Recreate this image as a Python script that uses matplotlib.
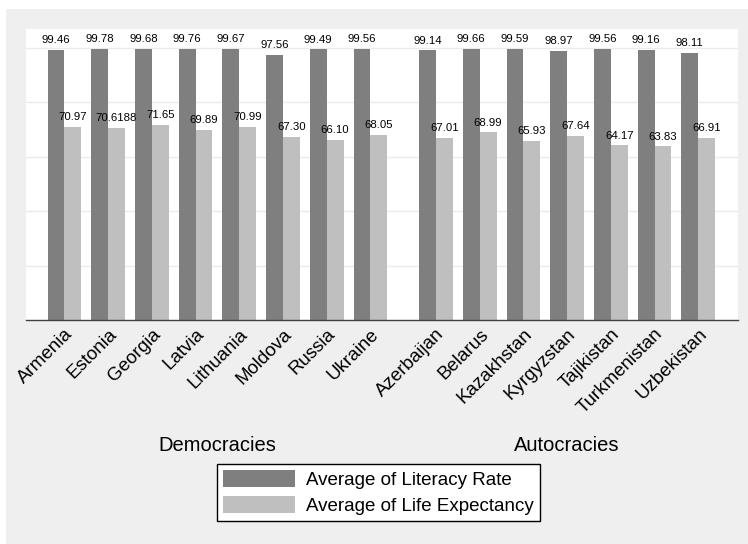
import matplotlib
matplotlib.use('Agg')
import matplotlib.pyplot as plt
from matplotlib.patches import Rectangle
from matplotlib.transforms import blended_transform_factory

plt.rcParams['font.family'] = ['Liberation Sans', 'DejaVu Sans']

# dados
democracias = ['Armenia', 'Estonia', 'Georgia', 'Latvia', 'Lithuania', 'Moldova', 'Russia', 'Ukraine']
autocracias = ['Azerbaijan', 'Belarus', 'Kazakhstan', 'Kyrgyzstan', 'Tajikistan', 'Turkmenistan', 'Uzbekistan']

literacy = [99.46, 99.78, 99.68, 99.76, 99.67, 97.56, 99.49, 99.56,
            99.14, 99.66, 99.59, 98.97, 99.56, 99.16, 98.11]
life_exp = [70.97, 70.6188, 71.65, 69.89, 70.99, 67.30, 66.10, 68.05,
            67.01, 68.99, 65.93, 67.64, 64.17, 63.83, 66.91]
literacy_txt = ['99.46', '99.78', '99.68', '99.76', '99.67', '97.56', '99.49', '99.56',
                '99.14', '99.66', '99.59', '98.97', '99.56', '99.16', '98.11']
life_txt = ['70.97', '70.6188', '71.65', '69.89', '70.99', '67.30', '66.10', '68.05',
            '67.01', '68.99', '65.93', '67.64', '64.17', '63.83', '66.91']

grupos = ['Democracies', 'Autocracies']

ESCURO = '#7f7f7f'
CLARO = '#bfbfbf'
FUNDO = '#efefef'

# posicoes: meio espaco extra entre os dois grupos
x = [i for i in range(len(democracias))] + [len(democracias) + 0.5 + i for i in range(len(autocracias))]
nomes = democracias + autocracias
w = 0.385

fig = plt.figure(figsize=(7.48, 5.44), dpi=100)
fig.patch.set_facecolor('white')
fig.patches.append(Rectangle((6 / 748, 0), 1, 1 - 9 / 544, transform=fig.transFigure,
                             facecolor=FUNDO, edgecolor='none', zorder=-10))

ax = fig.add_axes([26 / 748, (544 - 320) / 544, (738 - 26) / 748, (320 - 29) / 544])
ax.set_facecolor('white')

b1 = ax.bar([p - w / 2 for p in x], literacy, width=w, color=ESCURO, label='Average of Literacy Rate', zorder=3)
b2 = ax.bar([p + w / 2 for p in x], life_exp, width=w, color=CLARO, label='Average of Life Expectancy', zorder=3)

for i in range(len(x)):
    ax.annotate(literacy_txt[i], (x[i] - w / 2, literacy[i]), xytext=(0, 3.5), textcoords='offset points',
                ha='center', va='bottom', fontsize=8.2)
    ax.annotate(life_txt[i], (x[i] + w / 2, life_exp[i]), xytext=(0, 3.5), textcoords='offset points',
                ha='center', va='bottom', fontsize=8.2)

ax.set_ylim(0, 107)
ax.set_xlim(-0.88, 15.41)
ax.set_yticks([20, 40, 60, 80, 100])
ax.yaxis.grid(True, color='#ebebeb', linewidth=1, zorder=0)
ax.tick_params(axis='y', left=False, labelleft=False)

ax.set_xticks(x)
ax.set_xticklabels(nomes, rotation=45, ha='right', va='top', rotation_mode='anchor', fontsize=13.5)
ax.tick_params(axis='x', length=0, pad=4)

for s in ['top', 'left', 'right']:
    ax.spines[s].set_visible(False)
ax.spines['bottom'].set_color('#404040')
ax.spines['bottom'].set_linewidth(1)
ax.spines['bottom'].set_zorder(5)

# nomes dos grupos
trans = blended_transform_factory(ax.transData, fig.transFigure)
centro_dem = (x[0] + x[len(democracias) - 1]) / 2
centro_aut = (x[len(democracias)] + x[-1]) / 2
ax.text(centro_dem, 1 - 451 / 544, grupos[0], transform=trans, ha='center', va='baseline', fontsize=14.5)
ax.text(centro_aut, 1 - 451 / 544, grupos[1], transform=trans, ha='center', va='baseline', fontsize=14.5)

leg = ax.legend(loc='center', bbox_to_anchor=(378.5 / 748, 1 - 492.5 / 544), bbox_transform=fig.transFigure,
                fontsize=13.5, fancybox=False, framealpha=1, edgecolor='black',
                handlelength=3.8, handleheight=1.0, labelspacing=0.35, borderpad=0.35, handletextpad=0.6)
leg.get_frame().set_linewidth(1)

fig.savefig('out.png', dpi=100, facecolor=fig.get_facecolor())
